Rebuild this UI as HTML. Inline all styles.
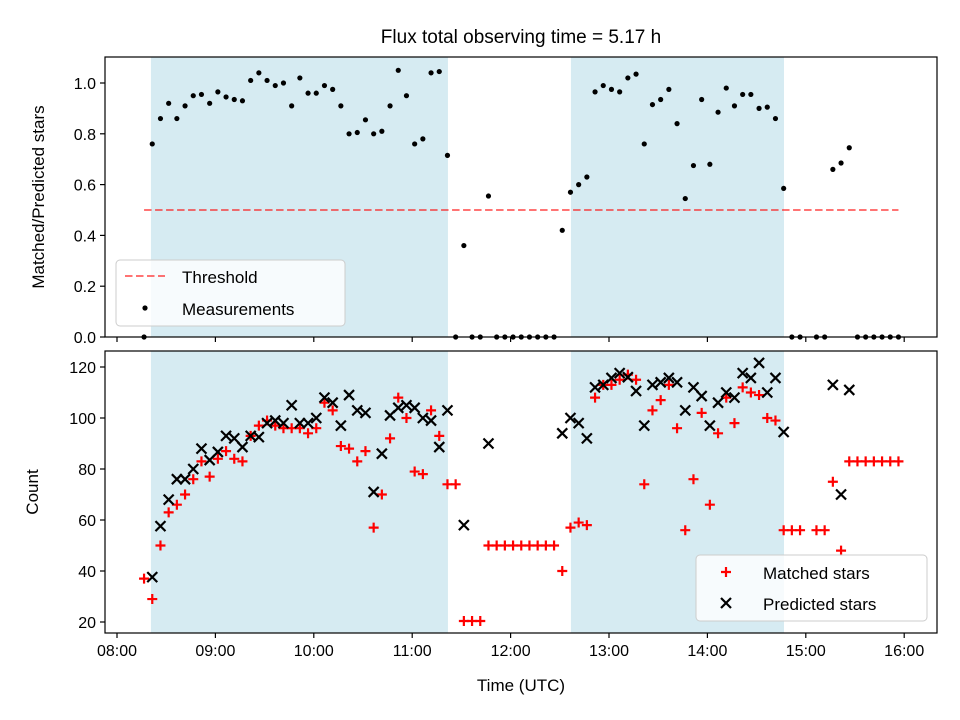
<!DOCTYPE html>
<html><head><meta charset="utf-8"><style>
body{margin:0;background:#fff}
svg{display:block;font-family:"Liberation Sans","DejaVu Sans",sans-serif}
</style></head><body>
<svg id="chart" width="960" height="720" xmlns="http://www.w3.org/2000/svg">
<rect width="960" height="720" fill="#fff"/>
<text x="521" y="43" font-size="19" text-anchor="middle">Flux total observing time = 5.17 h</text>
<g id="topPanel"></g>
<g id="botPanel"></g>
<text x="521" y="691" font-size="17" text-anchor="middle">Time (UTC)</text>
<text transform="translate(44,197) rotate(-90)" font-size="17" text-anchor="middle">Matched/Predicted stars</text>
<text transform="translate(38,492) rotate(-90)" font-size="17" text-anchor="middle">Count</text>
</svg>
<script>
// minutes after 08:00, 5-minute cadence
const times=[16.5,21.5,26.5,31.5,36.5,41.5,46.5,51.5,56.5,61.5,66.5,71.5,76.5,81.5,86.5,91.5,96.5,101.5,106.5,111.5,116.5,121.5,126.5,131.5,136.5,141.5,146.5,151.5,156.5,161.5,166.5,171.5,176.5,181.5,186.5,191.5,196.5,201.5,206.5,211.5,216.5,221.5,226.5,231.5,236.5,241.5,246.5,251.5,256.5,261.5,266.5,271.5,276.5,281.5,286.5,291.5,296.5,301.5,306.5,311.5,316.5,321.5,326.5,331.5,336.5,341.5,346.5,351.5,356.5,361.5,366.5,371.5,376.5,381.5,386.5,391.5,396.5,401.5,406.5,411.5,416.5,421.5,426.5,431.5,436.5,441.5,446.5,451.5,456.5,461.5,466.5,471.5,476.5];
const ratio=[0,.76,.86,.92,.86,.91,.95,.955,.92,.965,.945,.935,.93,1.01,1.04,1.01,.99,1.0,.91,1.02,.96,.96,.99,.975,.91,.80,.805,.855,.80,.81,.91,1.05,.95,.76,.78,1.04,1.045,.715,0,.36,0,0,.555,0,0,0,0,0,0,0,0,.42,.57,.60,.63,.965,.99,.975,.965,1.02,1.035,.76,.915,.935,.975,.84,.545,.675,.935,.68,.885,.98,.91,.955,.955,.90,.905,.86,.585,0,0,null,0,0,.66,.685,.745,0,0,0,0,0,0];
const matched=[37,29,50,63,66,70,76,83,77,84,87,84,83,93,97,99,97,96,96,96,94,96,106,103,89,88,83,87,57,70,92,108,100,79,78,103,93,74,74,20.4,20.4,20.4,50,50,50,50,50,50,50,50,50,40,57,59,58,108,113,113,115,117,115,74,103,107,113,96,56,76,102,66,94,108,98,112,110,109,100,99,56,56,56,null,56,56,75,48,83,83,83,83,83,83,83];
const predicted=[null,37.6,57.6,68,76,76,80,88,83.5,86.7,93,92,88.6,93,92.5,98,99,98,105,98,98,100,108,106,97,109,103,102,71,86,101,104,105,104,100,99,88.6,103,null,58,null,null,90,null,null,null,null,null,null,null,null,94,100,98,92,112,113,115.7,117.6,116,110.6,97,113,114,115.7,114,103,112,108.6,97,106,110,108,117.6,115.7,121.6,110,115.7,94.5,null,null,null,null,null,113,70,111,null,null,null,null,null,null];
const observingSpans=[[20.7,201.8],[276.8,406.7]];
const xTickLabels=["08:00","09:00","10:00","11:00","12:00","13:00","14:00","15:00","16:00"];
const ratioTicks=[0,0.2,0.4,0.6,0.8,1.0];
const countTicks=[20,40,60,80,100,120];
const threshold=0.5;

const NS="http://www.w3.org/2000/svg";
const L=105,R=937;
const xs=m=>117+m/60*98.4;
const yT=v=>337-v*254;
const yB=v=>622-(v-20)*2.55;
function mk(p,tag,a){const e=document.createElementNS(NS,tag);for(const k in a)e.setAttribute(k,a[k]);p.appendChild(e);return e;}
const topG=document.getElementById('topPanel'),botG=document.getElementById('botPanel');
function panel(g,y0,y1,ys,ticks,fmt,showX){
  observingSpans.forEach(s=>{const r=mk(g,'rect',{x:xs(s[0]),y:y0,width:xs(s[1])-xs(s[0]),height:y1-y0,fill:'#add8e6','fill-opacity':0.5});
    
    });
  ticks.forEach(v=>{const y=ys(v);mk(g,'line',{x1:L-5,x2:L,y1:y,y2:y,stroke:'#000','stroke-width':1.2});
    const t=mk(g,'text',{x:L-9,y:y+6,'font-size':16,'text-anchor':'end'});t.textContent=fmt(v);
    
    });
  xTickLabels.forEach((lab,i)=>{const x=xs(i*60);mk(g,'line',{x1:x,x2:x,y1:y1,y2:y1+5,stroke:'#000','stroke-width':1.2});
    if(showX){const t=mk(g,'text',{x:x,y:y1+23,'font-size':16,'text-anchor':'middle'});t.textContent=lab;
    
    }});
}
panel(topG,57,337,yT,ratioTicks,v=>v.toFixed(1),false);
panel(botG,351,633,yB,countTicks,v=>String(v),true);
const th=mk(topG,'line',{x1:xs(times[0]),x2:xs(times[times.length-1]),y1:yT(threshold),y2:yT(threshold),stroke:'#ff0000','stroke-opacity':0.55,'stroke-width':2,'stroke-dasharray':'7.5,3.5'});


times.forEach((m,i)=>{if(ratio[i]==null)return;const c=mk(topG,'circle',{cx:xs(m),cy:yT(ratio[i]),r:2.6,fill:'#000'});
  
  });
times.forEach((m,i)=>{if(matched[i]==null)return;const x=xs(m),y=yB(matched[i]);
  const p=mk(botG,'path',{d:`M${x-5},${y}H${x+5}M${x},${y-5}V${y+5}`,stroke:'#ff0000','stroke-width':2.2});
  
  });
times.forEach((m,i)=>{if(predicted[i]==null)return;const x=xs(m),y=yB(predicted[i]);
  const p=mk(botG,'path',{d:`M${x-5},${y-5}L${x+5},${y+5}M${x-5},${y+5}L${x+5},${y-5}`,stroke:'#000','stroke-width':2.2});
  
  });
mk(topG,'rect',{x:L,y:57,width:R-L,height:280,fill:'none',stroke:'#000','stroke-width':1.2});
mk(botG,'rect',{x:L,y:351,width:R-L,height:282,fill:'none',stroke:'#000','stroke-width':1.2});
const lg1=mk(topG,'g',{});


mk(lg1,'rect',{x:116,y:260,width:229,height:66,rx:4,fill:'#fff','fill-opacity':0.8,stroke:'#ccc'});
mk(lg1,'line',{x1:125,x2:165,y1:276,y2:276,stroke:'#ff0000','stroke-opacity':0.55,'stroke-width':2,'stroke-dasharray':'7.5,3.5'});
let t=mk(lg1,'text',{x:182,y:283,'font-size':17});t.textContent='Threshold';
mk(lg1,'circle',{cx:145,cy:308,r:2.6,fill:'#000'});
t=mk(lg1,'text',{x:182,y:315,'font-size':17});t.textContent='Measurements';
const lg2=mk(botG,'g',{});


mk(lg2,'rect',{x:696,y:555,width:231,height:66,rx:4,fill:'#fff','fill-opacity':0.8,stroke:'#ccc'});
mk(lg2,'path',{d:'M721,572H731M726,567V577',stroke:'#ff0000','stroke-width':2.2});
t=mk(lg2,'text',{x:763,y:579,'font-size':17});t.textContent='Matched stars';
mk(lg2,'path',{d:'M721,598L731,608M721,608L731,598',stroke:'#000','stroke-width':2.2});
t=mk(lg2,'text',{x:763,y:610,'font-size':17});t.textContent='Predicted stars';
</script>
</body></html>
